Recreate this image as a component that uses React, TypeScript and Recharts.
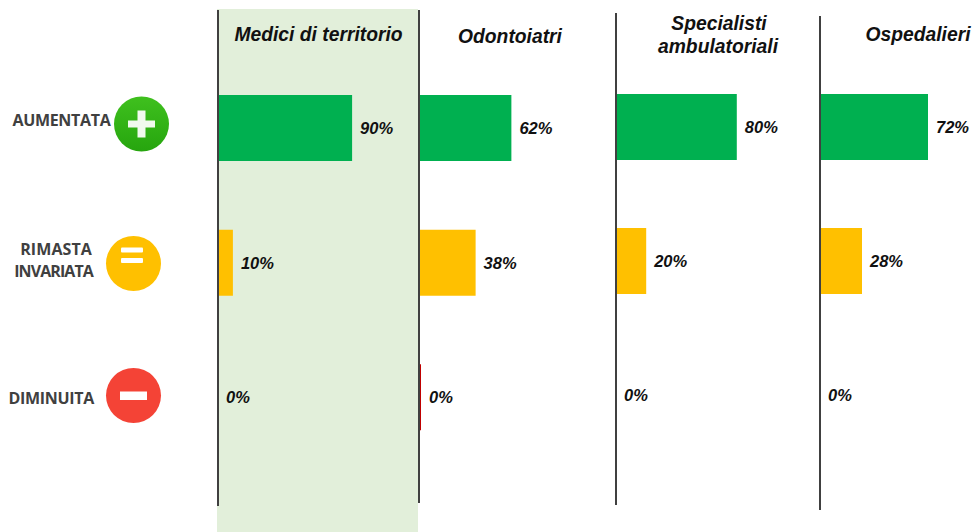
import { Bar, BarChart, Cell, LabelList, XAxis, YAxis } from "recharts";

const categories = ["AUMENTATA", "RIMASTA INVARIATA", "DIMINUITA"];
const barColors = ["#00B050", "#FFC000", "#C00000"];

const mediciValues = [90, 10, 0];
const odontoiatriValues = [62, 38, 0];
const specialistiValues = [80, 20, 0];
const ospedalieriValues = [72, 28, 0];

const titleFont = "'Liberation Sans', Arial, sans-serif";
const sideFont = "'Open Sans', sans-serif";

const toRows = (values: number[]) =>
  categories.map((name, i) => ({ name, value: values[i] }));

function PercentLabel(props: any) {
  const { x, y, width, height, value } = props;
  return (
    <text
      x={x + width + 8}
      y={y + height / 2 + 6}
      fontFamily={titleFont}
      fontSize={16.5}
      fontWeight={700}
      fontStyle="italic"
      fill="#111111"
    >
      {value}%
    </text>
  );
}

interface PanelProps {
  values: number[];
  left: number;
  top: number;
  height: number;
  plotWidth: number;
  padTop: number;
  padBottom: number;
  minPointSize?: number;
}

function Panel({
  values,
  left,
  top,
  height,
  plotWidth,
  padTop,
  padBottom,
  minPointSize = 0.1,
}: PanelProps) {
  return (
    <div style={{ position: "absolute", left: left - 2, top }}>
      <BarChart
        layout="vertical"
        width={plotWidth + 62}
        height={height}
        data={toRows(values)}
        margin={{ top: 0, right: 60, bottom: 0, left: 1 }}
      >
        <XAxis type="number" domain={[0, 100]} hide />
        <YAxis
          type="category"
          dataKey="name"
          width={1}
          tick={false}
          tickLine={false}
          axisLine={{ stroke: "#404040", strokeWidth: 2 }}
          padding={{ top: padTop, bottom: padBottom }}
        />
        <Bar
          dataKey="value"
          barSize={66}
          isAnimationActive={false}
          minPointSize={minPointSize}
        >
          {values.map((_v, index) => (
            <Cell key={`cell-${index}`} fill={barColors[index]} />
          ))}
          <LabelList dataKey="value" content={PercentLabel} />
        </Bar>
      </BarChart>
    </div>
  );
}

function Title({ x, y, lines }: { x: number; y: number; lines: string[] }) {
  return (
    <>
      {lines.map((line, i) => (
        <text
          key={line}
          x={x}
          y={y + i * 23}
          textAnchor="middle"
          fontFamily={titleFont}
          fontSize={19.3}
          fontWeight={700}
          fontStyle="italic"
          fill="#111111"
        >
          {line}
        </text>
      ))}
    </>
  );
}

function SideLabel({
  x,
  y,
  text,
  spacing = -0.3,
}: {
  x: number;
  y: number;
  text: string;
  spacing?: number;
}) {
  return (
    <text
      x={x}
      y={y}
      textAnchor="end"
      fontFamily={sideFont}
      fontSize={16}
      fontWeight={700}
      letterSpacing={spacing}
      fill="#404040"
    >
      {text}
    </text>
  );
}

export default function App() {
  return (
    <div
      style={{
        position: "absolute",
        left: 0,
        top: 0,
        width: 972,
        height: 532,
        overflow: "hidden",
        background: "#ffffff",
      }}
    >
      <div
        style={{
          position: "absolute",
          left: 217,
          top: 9,
          width: 201,
          height: 523,
          background: "#E2EFDA",
        }}
      />
      <Panel values={mediciValues} left={218} top={10} height={496} plotWidth={149} padTop={51} padBottom={41} />
      <Panel values={odontoiatriValues} left={419} top={10} height={493} plotWidth={149} padTop={51} padBottom={38} minPointSize={2} />
      <Panel values={specialistiValues} left={616} top={13} height={492} plotWidth={151} padTop={47} padBottom={43} />
      <Panel values={ospedalieriValues} left={820} top={16} height={494} plotWidth={150} padTop={44} padBottom={48} />
      <svg
        width={972}
        height={532}
        style={{ position: "absolute", left: 0, top: 0, pointerEvents: "none" }}
      >
        <defs>
          <linearGradient id="plusFill" x1="0" y1="0" x2="0" y2="1">
            <stop offset="0%" stopColor="#3FC01E" />
            <stop offset="100%" stopColor="#26A50E" />
          </linearGradient>
        </defs>
        <Title x={318.5} y={41} lines={["Medici di territorio"]} />
        <Title x={510} y={43} lines={["Odontoiatri"]} />
        <Title x={719} y={30} lines={["Specialisti"]} />
        <Title x={718} y={53} lines={["ambulatoriali"]} />
        <Title x={918} y={41} lines={["Ospedalieri"]} />

        <SideLabel x={110.5} y={126} text="AUMENTATA" />
        <SideLabel x={92} y={255} text="RIMASTA" spacing={0.1} />
        <SideLabel x={93} y={277} text="INVARIATA" spacing={-0.9} />
        <SideLabel x={94} y={404} text="DIMINUITA" />

        <circle cx={141.5} cy={124} r={27.5} fill="url(#plusFill)" />
        <rect x={128} y={120.5} width={27} height={7} fill="#F1FAEE" />
        <rect x={137.5} y={110.5} width={8} height={27} fill="#F1FAEE" />

        <circle cx={133.5} cy={263.5} r={27.5} fill="#FFC000" />
        <rect x={121} y={247.5} width={22} height={5} rx={1} fill="#FFFFFF" />
        <rect x={121} y={258} width={22} height={5} rx={1} fill="#FFFFFF" />

        <circle cx={133.5} cy={395.5} r={27.5} fill="#F44336" />
        <rect x={120} y={391.5} width={27} height={8.5} fill="#FFFFFF" />
      </svg>
    </div>
  );
}
